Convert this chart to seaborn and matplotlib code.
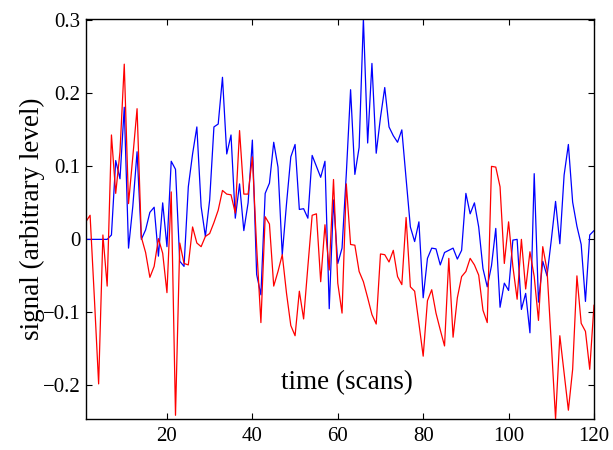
import numpy as np
import pandas as pd
import seaborn as sns
import matplotlib
matplotlib.use("Agg")
import matplotlib.pyplot as plt
from matplotlib.ticker import FuncFormatter

scans = list(range(1, 121))

blue_signal = [
    0.0, 0.0, 0.0, 0.0, 0.0, 0.0, 0.006, 0.108, 0.083, 0.181,
    -0.012, 0.045, 0.12, 0.0, 0.013, 0.037, 0.044, -0.023, 0.05, -0.01,
    0.107, 0.096, -0.03, -0.037, 0.072, 0.117, 0.154, 0.045, 0.004, 0.054,
    0.154, 0.158, 0.222, 0.117, 0.143, 0.029, 0.076, 0.012, 0.05, 0.136,
    -0.048, -0.076, 0.063, 0.077, 0.133, 0.099, -0.021, 0.049, 0.113, 0.13,
    0.041, 0.042, 0.029, 0.115, 0.1, 0.085, 0.107, -0.095, 0.054, -0.033,
    -0.012, 0.09, 0.205, 0.089, 0.126, 0.302, 0.132, 0.241, 0.118, 0.167,
    0.208, 0.154, 0.142, 0.133, 0.15, 0.083, 0.017, -0.003, 0.024, -0.08,
    -0.026, -0.012, -0.013, -0.035, -0.018, -0.015, -0.012, -0.027, -0.015, 0.063,
    0.035, 0.05, 0.017, -0.04, -0.065, -0.036, 0.015, -0.093, -0.06, -0.07,
    -0.001, 0.0, -0.096, -0.074, -0.128, 0.09, -0.086, -0.03, -0.05, -0.001,
    0.052, -0.006, 0.088, 0.13, 0.051, 0.018, -0.007, -0.085, 0.006, 0.012,
]

red_signal = [
    0.024, 0.033, -0.08, -0.198, 0.006, -0.064, 0.143, 0.063, 0.12, 0.24,
    0.049, 0.113, 0.179, 0.003, -0.018, -0.052, -0.037, 0.001, -0.019, -0.073,
    0.065, -0.241, -0.005, -0.033, -0.035, 0.017, -0.005, -0.01, 0.004, 0.008,
    0.023, 0.04, 0.067, 0.062, 0.061, 0.036, 0.149, 0.062, 0.062, 0.113,
    -0.01, -0.114, 0.031, 0.021, -0.064, -0.044, -0.021, -0.074, -0.118, -0.132,
    -0.071, -0.109, -0.037, 0.033, 0.035, -0.058, 0.02, -0.042, 0.082, -0.06,
    -0.101, 0.076, -0.007, -0.008, -0.044, -0.058, -0.08, -0.103, -0.116, -0.02,
    -0.021, -0.031, -0.015, -0.051, -0.062, 0.03, -0.065, -0.071, -0.115, -0.16,
    -0.084, -0.069, -0.101, -0.124, -0.146, -0.026, -0.134, -0.08, -0.051, -0.044,
    -0.026, -0.035, -0.049, -0.097, -0.114, 0.1, 0.099, 0.072, -0.033, 0.024,
    -0.037, -0.082, 0.0, -0.068, -0.017, -0.051, -0.111, -0.01, -0.042, -0.142,
    -0.246, -0.132, -0.183, -0.234, -0.178, -0.05, -0.115, -0.126, -0.178, -0.09,
]

x_ticks = [20, 40, 60, 80, 100, 120]
y_ticks = [-0.2, -0.1, 0.0, 0.1, 0.2, 0.3]

sns.set_style("ticks")
plt.rcParams['font.family'] = ['Liberation Serif', 'DejaVu Serif']
plt.rcParams['xtick.direction'] = 'in'
plt.rcParams['ytick.direction'] = 'in'
plt.rcParams['text.color'] = 'black'
plt.rcParams['axes.labelcolor'] = 'black'
plt.rcParams['xtick.color'] = 'black'
plt.rcParams['ytick.color'] = 'black'

df = pd.DataFrame({"scan": scans, "blue": blue_signal, "red": red_signal})

fig = plt.figure(figsize=(6.13, 4.5), dpi=100)
ax = fig.add_axes([0.140, 0.069, 0.829, 0.889])

sns.lineplot(data=df, x="scan", y="blue", ax=ax, color="#0000ff", linewidth=0.9)
sns.lineplot(data=df, x="scan", y="red", ax=ax, color="#ff0000", linewidth=0.9)

ax.set_xlim(1, 120)
ax.set_ylim(min(red_signal), max(blue_signal))
ax.set_xticks(x_ticks)
ax.set_yticks(y_ticks)

def fmt(v, pos):
    if abs(v) < 1e-9:
        return "0"
    s = f"{v:.1f}"
    return s.replace("-", "\u2212")

ax.yaxis.set_major_formatter(FuncFormatter(fmt))
ax.tick_params(axis="x", labelsize=15, pad=6)
ax.tick_params(axis="y", labelsize=15, pad=4)
ax.tick_params(axis="both", which="both", top=True, right=True,
               length=4, width=0.8, color="black", labelcolor="black")
for sp in ax.spines.values():
    sp.set_visible(True)
    sp.set_linewidth(1.0)
    sp.set_color("black")

ax.set_xlabel("")
ax.set_ylabel("signal (arbitrary level)", fontsize=19.5, labelpad=-2, color="black")
ax.text(0.514, 0.09, "time (scans)", transform=ax.transAxes, ha="center",
        va="center", fontsize=19.5, color="black")

fig.savefig("out.png", dpi=100, facecolor="white")
